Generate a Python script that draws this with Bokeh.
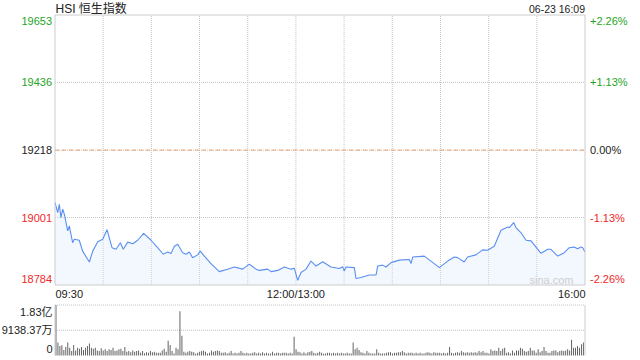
import numpy as np
from bokeh.plotting import figure
from bokeh.layouts import column
from bokeh.models import Range1d, Label
from bokeh.embed import file_html
from bokeh.resources import INLINE

# ---------------- data ----------------
TITLE = "HSI 恒生指数"
STAMP = "06-23 16:09"
prev_close = 19218
price_ticks = [19653, 19436, 19218, 19001, 18784]
pct_labels = ["+2.26%", "+1.13%", "0.00%", "-1.13%", "-2.26%"]
time_ticks = [0, 150, 330]            # minutes of trading since 09:30
time_labels = ["09:30", "12:00/13:00", "16:00"]
grid_minutes = [30, 60, 90, 120, 150, 180, 210, 240, 270, 300]

# intraday index (minutes since open, level)
t_am = [0, 1.7, 2.7, 3.7, 4.8, 5.8, 7.9, 8.9, 11.0, 12.0, 15.1, 17.2, 21.4, 23.5,
        26.6, 29.7, 32.4, 35.5, 38.0, 40.7, 42.5, 45.3, 48.4, 51.5, 55.2, 59.8,
        63.9, 67.4, 70.2, 72.2, 74.3, 76.4, 79.5, 81.6, 83.6, 85.7, 88.8, 90.5,
        93.0, 97.1, 102.3, 107.5, 111.6, 116.9, 121.0, 125.2, 127.2, 132.4, 134.5,
        138.7, 142.8, 146.9, 149.0]
v_am = [19049, 19017, 19044, 19001, 19028, 19012, 18958, 18974, 18920, 18931, 18928, 18893, 18858, 18893,
        18923, 18931, 18962, 18904, 18899, 18920, 18899, 18922, 18917, 18928, 18950, 18928,
        18904, 18883, 18890, 18885, 18909, 18915, 18888, 18883, 18890, 18872, 18881, 18893,
        18877, 18853, 18827, 18835, 18842, 18835, 18851, 18835, 18831, 18835, 18827,
        18831, 18842, 18835, 18838]
t_pm = [151.1, 153.2, 156.3, 159.4, 162.5, 166.7, 171.8, 177.0, 179.1, 180.1, 181.2,
        186.4, 187.4, 190.5, 195.7, 199.9, 200.9, 204.0, 206.1, 209.2, 214.4, 220.6,
        221.7, 222.7, 229.9, 234.1, 239.3, 244.5, 248.6, 250.7, 254.8, 256.9, 262.1,
        266.3, 269.4, 273.5, 277.7, 281.9, 282.9, 285.6, 287.0, 290.2, 293.3, 296.4,
        302.6, 306.8, 308.8, 313.0, 317.1, 320.2, 323.3, 325.4, 327.5, 328.6, 330]
v_pm = [18799, 18824, 18835, 18861, 18845, 18859, 18842, 18837, 18843, 18829, 18842,
        18840, 18805, 18808, 18816, 18816, 18845, 18848, 18842, 18856, 18864, 18866,
        18853, 18874, 18877, 18861, 18840, 18861, 18874, 18872, 18858, 18874, 18881,
        18897, 18896, 18909, 18960, 18971, 18969, 18985, 18969, 18952, 18928, 18926,
        18886, 18899, 18899, 18877, 18888, 18904, 18906, 18901, 18906, 18904, 18890]

# volume (万股), read bar by bar
vol_max = 18276.74
vol_tick_labels = ["1.83亿", "9138.37万", "0"]
vol_seg1 = [18277, 4710, 3450, 3710, 1970, 3080, 4710, 2850, 1600, 3820, 1850, 2850, 2480, 3080,
            1970, 2850, 3450, 4340, 2850, 2480, 2850, 1850, 1600, 2600, 1850, 2220, 1600, 2220,
            1970, 2850, 1600, 1850, 2220, 2480, 1600, 3080, 1370, 1600, 1220, 1850, 1370, 1600,
            1850, 1000, 1600, 850, 1220, 1000, 1600, 1220, 1370, 1000]
vol_seg2 = [1000, 1000, 1850, 2480, 1370, 5300, 3820, 1600, 740, 2850, 2220, 16050, 7150, 1370,
            1000, 1370, 1600, 1370, 1220, 630, 1000, 1370, 1600, 1850, 1370, 740, 1000, 1850,
            1370, 1600, 1850, 1600, 1000, 1000, 1220, 740, 1000, 1600, 740, 1000, 740, 1000,
            1600, 1000, 740, 1000, 740, 740, 1000, 1220, 740, 1000, 740, 1220]
vol_seg3 = [740, 1000, 740, 740, 1370, 740, 1000, 1000, 740, 1000, 1000, 1000, 740, 1000,
            740, 6780, 2220, 1370, 1220, 740, 1220, 740, 1220, 1370, 1600, 1000, 740, 1000,
            1370, 1000, 630, 740, 1000, 1000, 740, 1000, 740, 1000, 740, 1000, 740, 740,
            1000, 740, 740, 4710, 2220, 2850, 1970, 1220, 1000, 740, 1600, 1000, 740, 740]
vol_seg4 = [740, 2220, 1000, 740, 740, 740, 1000, 1220, 1220, 740, 1000, 1000, 1220, 1220,
            1600, 1220, 740, 1000, 1000, 1000, 740, 1000, 740, 1000, 740, 740, 1000, 1220,
            1000, 740, 1220, 1000, 1000, 1000, 740, 1000, 740, 1000, 3080, 1000, 740, 1000,
            1220, 1000, 1600, 1220, 1000, 1220, 1000, 1220, 1000, 1220, 1000, 1600, 1220]
vol_seg5 = [1600, 1000, 1000, 740, 2220, 1600, 1850, 1600, 2850, 1600, 2480, 2850, 1000, 1220,
            740, 1850, 1000, 1850, 1850, 2850, 2480, 1600, 1370, 1600, 2850, 1850, 1850, 1000,
            2220, 1220, 1600, 3080, 1600, 1000, 1000, 1600, 1850, 1850, 1220, 1600, 1850, 1600,
            1850, 2220, 1850, 5670, 2850, 2850, 3450, 2850, 4080, 4710]

# ---------------- styling / layout ----------------
FONT = "Liberation Sans, Noto Sans CJK SC"
GREEN = "#1ea51e"
RED = "#f02828"
BLACK = "#222222"
GRID = "#c4c4c4"
BORDER = "#cccccc"

t_line = t_am + t_pm
v_line = v_am + v_pm
vols = vol_seg1 + vol_seg2 + vol_seg3 + vol_seg4 + vol_seg5
t_vol = np.linspace(0.6, 329.0, len(vols))

W = 640
H1, H2 = 302, 58
# chart box in canvas pixels
CL, CR = 54.5, 584.5          # left / right
MT, MB = 14.5, 284.5          # main chart top / bottom (fig 1)
VT, VB = 2.5, 53.0            # volume chart top / bottom (fig 2)

t0, t1 = time_ticks[0], time_ticks[-1]
lo, hi = price_ticks[-1], price_ticks[0]
KX = (t1 - t0) / (CR - CL)
KY = (hi - lo) / (MB - MT)
KV = vol_max / (VB - VT)
x_rng = (t0 - CL * KX, t1 + (W - CR) * KX)


def new_fig(h, y0, y1):
    f = figure(width=W, height=h, x_range=Range1d(*x_rng), y_range=Range1d(y0, y1),
               x_axis_type=None, y_axis_type=None, output_backend="svg",
               toolbar_location=None, min_border_left=0, min_border_right=0,
               min_border_top=0, min_border_bottom=0)
    f.outline_line_color = None
    f.background_fill_color = "white"
    f.border_fill_color = "white"
    return f


def lab(fig, **kw):
    base = dict(x_units="data", y_units="data", text_font=FONT, text_font_size="11px",
                text_baseline="middle", text_color=BLACK)
    base.update(kw)
    fig.add_layout(Label(**base))


# ---------------- main price chart ----------------
p = new_fig(H1, lo - (H1 - MB) * KY, hi + MT * KY)

# dotted grid
p.segment(x0=grid_minutes, x1=grid_minutes, y0=lo, y1=hi, line_color=GRID,
          line_dash="1 1", line_width=1)
p.segment(x0=t0, x1=t1, y0=price_ticks[1:4], y1=price_ticks[1:4], line_color=GRID,
          line_dash="1 1", line_width=1)
# previous close
p.segment(x0=[t0], x1=[t1], y0=[prev_close], y1=[prev_close], line_color="#f2a46c",
          line_dash="4 3", line_width=1)

p.varea(x=t_line, y1=lo, y2=v_line, fill_color="#dde8fb", fill_alpha=0.35)
p.line(t_line, v_line, line_color="#5a8ff2", line_width=1.1)

# chart border
p.quad(left=[t0], right=[t1], bottom=[lo], top=[hi], fill_color=None,
       line_color=BORDER, line_width=1)

offs = [-5.5, 0, 0, 0, 6.5]
for v, pct, off in zip(price_ticks, pct_labels, offs):
    col = GREEN if v > prev_close else (RED if v < prev_close else BLACK)
    lab(p, x=t0, y=v, x_offset=-3, y_offset=off, text=str(v), text_align="right",
        text_color=col)
    lab(p, x=t1, y=v, x_offset=5, y_offset=off, text=pct, text_align="left",
        text_color=col)

lab(p, x=t0, y=hi, x_offset=0.5, y_offset=6, text=TITLE, text_align="left",
    text_font_size="12px")
lab(p, x=t1, y=hi, x_offset=0, y_offset=6, text=STAMP, text_align="right",
    text_font_size="10.5px")

aligns = ["left", "center", "right"]
xoffs = [0.5, 0, 0.5]
for t, s, a, xo in zip(time_ticks, time_labels, aligns, xoffs):
    lab(p, x=t, y=lo, x_offset=xo, y_offset=-9, text=s, text_align=a)

lab(p, x=t1, y=lo, x_offset=-11.5, y_offset=5, text="sina.com", text_align="right",
    text_color="#cfcfcf", text_font_size="11px")

# ---------------- volume chart ----------------
q = new_fig(H2, -(H2 - VB) * KV, vol_max + VT * KV)
q.segment(x0=t0, x1=t1, y0=[vol_max, vol_max / 2], y1=[vol_max, vol_max / 2],
          line_color=GRID, line_dash="1 1", line_width=1)
q.vbar(x=t_vol, top=vols, width=0.6, fill_color="#5e5e5e", line_color=None)
q.segment(x0=[t0, t1], x1=[t0, t1], y0=0, y1=vol_max, line_color=BORDER, line_width=1)

vol_tick_vals = [vol_max, vol_max / 2, 0]
voffs = [-7.2, 0, 6.7]
for v, s, off in zip(vol_tick_vals, vol_tick_labels, voffs):
    lab(q, x=t0, y=v, x_offset=-2.5, y_offset=off, text=s, text_align="right")

layout = column(p, q, spacing=0)
open("out.html", "w").write(file_html(layout, INLINE))
